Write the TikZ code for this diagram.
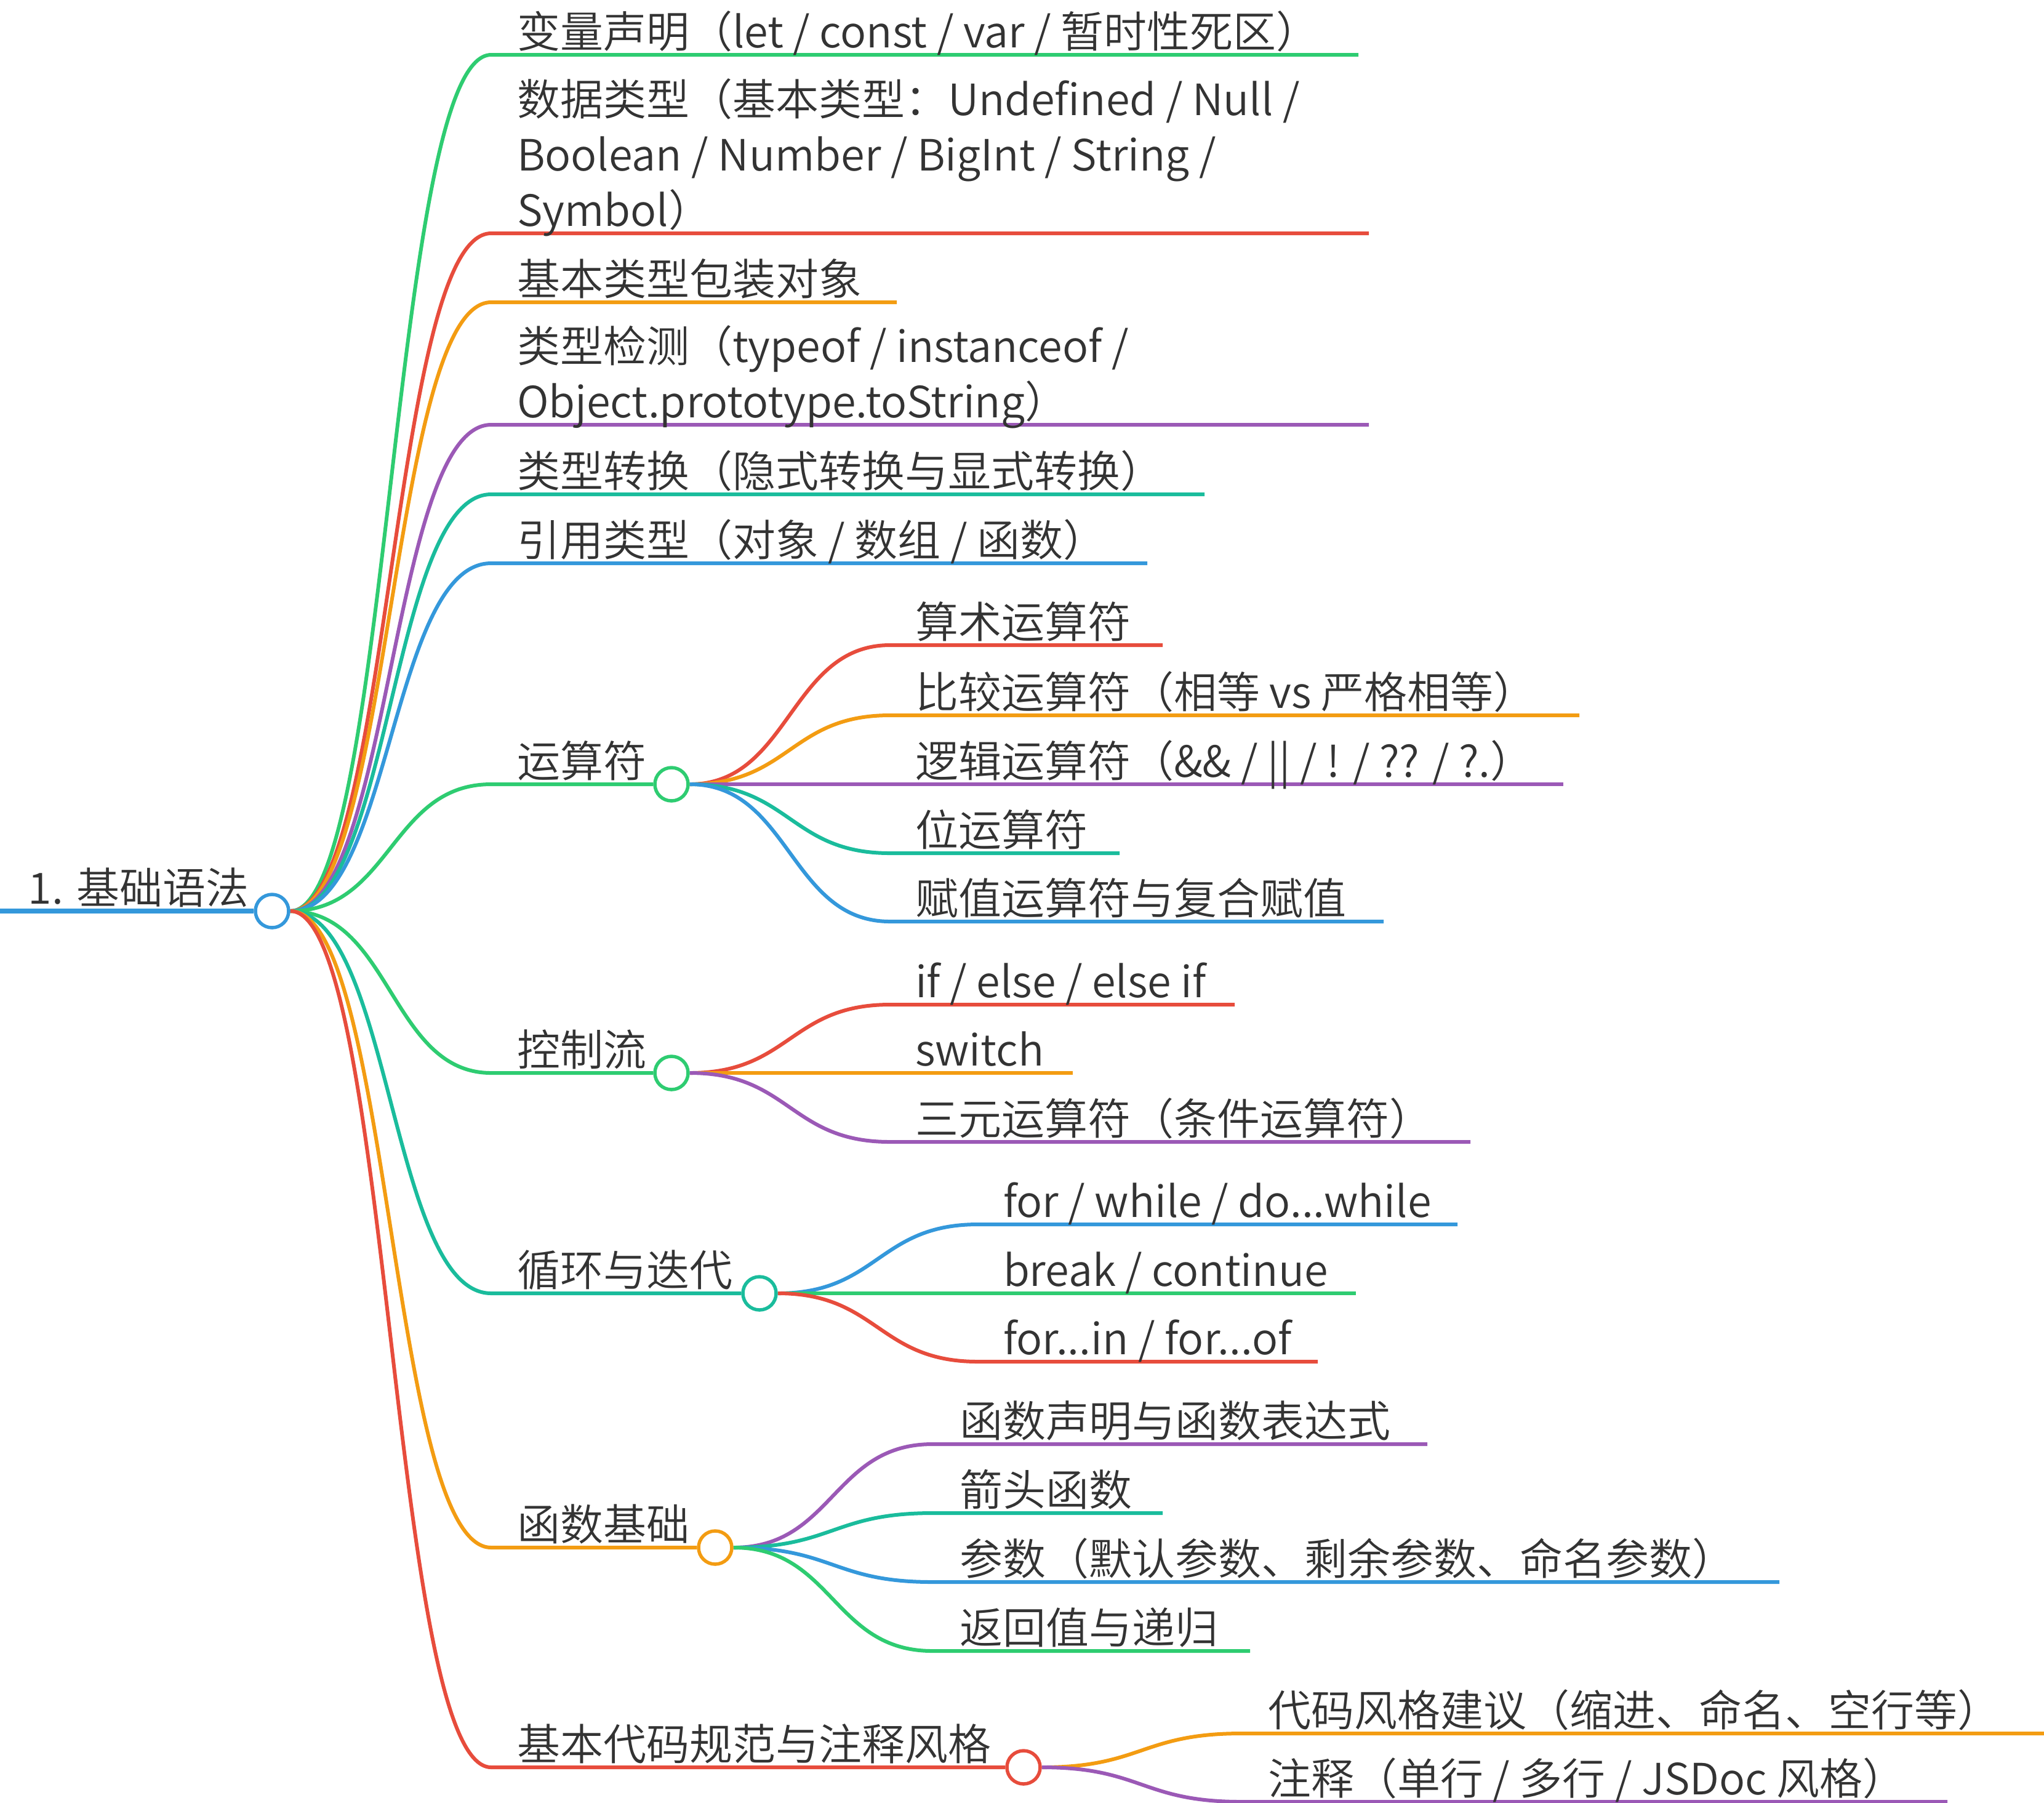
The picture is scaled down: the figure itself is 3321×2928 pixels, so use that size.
\documentclass[tikz,border=0pt]{standalone}
\usepackage{fontspec}
\IfFontExistsTF{Noto Sans CJK SC DemiLight}{\setmainfont{Noto Sans CJK SC DemiLight}}{\setmainfont{Noto Sans CJK SC}}
\usetikzlibrary{calc}
\definecolor{cgreen}{HTML}{2ECC71}
\definecolor{cred}{HTML}{E74C3C}
\definecolor{corange}{HTML}{F39C12}
\definecolor{cpurple}{HTML}{9B59B6}
\definecolor{cteal}{HTML}{1ABC9C}
\definecolor{cblue}{HTML}{3498DB}
\definecolor{txt}{HTML}{333333}
\pgfdeclarelayer{bg}
\pgfsetlayers{bg,main}
\newcommand\mmlink[4]{%
  \begin{pgfonlayer}{bg}
  \draw[br=#1] let \p1=(#2), \p2=(#3) in (\p1) .. controls ({(\x1+\x2)/2},\y1) and ({(\x1+\x2)/2},\y2) .. (\p2) -- (#4);
  \end{pgfonlayer}}
\begin{document}
\begin{tikzpicture}[x=0.25pt,y=-0.25pt,
  lbl/.style={anchor=base west, inner sep=0pt, outer sep=0pt, font=\fontsize{17.5}{22.5}\selectfont, text=txt, align=left},
  dot/.style={circle, draw=#1, fill=white, line width=1.375pt, minimum size=13.5pt, inner sep=0pt},
  br/.style={draw=#1, line width=1.5pt, line cap=butt}]
\useasboundingbox (0,0) rectangle (3321,2928);

% root
\node[dot=cblue] (root) at (442,1480) {};
\coordinate (r0) at (0,1480);
\begin{pgfonlayer}{bg}
\draw[cblue, line width=2pt] (r0) -- (root.west);
\end{pgfonlayer}
\node[lbl] (troot) at (46,1468) {1. 基础语法};

% level 1 coordinates
\coordinate (s1) at (798,89);   \coordinate (e1) at (2207,89);
\coordinate (s2) at (798,379);  \coordinate (e2) at (2224,379);
\coordinate (s3) at (798,491);  \coordinate (e3) at (1457,491);
\coordinate (s4) at (798,690);  \coordinate (e4) at (2224,690);
\coordinate (s5) at (798,803);  \coordinate (e5) at (1957,803);
\coordinate (s6) at (798,915);  \coordinate (e6) at (1864,915);
\coordinate (s7) at (798,1274);
\coordinate (s8) at (798,1743);
\coordinate (s9) at (798,2101);
\coordinate (s10) at (798,2514);
\coordinate (s11) at (798,2871);
\node[dot=cgreen] (c7) at (1091,1274) {};
\node[dot=cgreen] (c8) at (1091,1743) {};
\node[dot=cteal] (c9) at (1234,2101) {};
\node[dot=corange] (c10) at (1162,2514) {};
\node[dot=cred] (c11) at (1663,2871) {};

\mmlink{cgreen}{root.east}{s1}{e1}
\mmlink{cred}{root.east}{s2}{e2}
\mmlink{corange}{root.east}{s3}{e3}
\mmlink{cpurple}{root.east}{s4}{e4}
\mmlink{cteal}{root.east}{s5}{e5}
\mmlink{cblue}{root.east}{s6}{e6}
\mmlink{cgreen}{root.east}{s7}{c7.west}
\mmlink{cgreen}{root.east}{s8}{c8.west}
\mmlink{cteal}{root.east}{s9}{c9.west}
\mmlink{corange}{root.east}{s10}{c10.west}
\mmlink{cred}{root.east}{s11}{c11.west}

\node[lbl] (t1) at (840,77) {变量声明（let / const / var / 暂时性死区）};
\node[lbl] (t2) at (840,367) {数据类型（基本类型：Undefined / Null /\\Boolean / Number / BigInt / String /\\Symbol）};
\node[lbl] (t3) at (840,479) {基本类型包装对象};
\node[lbl] (t4) at (840,678) {类型检测（typeof / instanceof /\\Object.prototype.toString）};
\node[lbl] (t5) at (840,791) {类型转换（隐式转换与显式转换）};
\node[lbl] (t6) at (840,903) {引用类型（对象 / 数组 / 函数）};
\node[lbl] (t7) at (840,1262) {运算符};
\node[lbl] (t8) at (840,1731) {控制流};
\node[lbl] (t9) at (840,2089) {循环与迭代};
\node[lbl] (t10) at (840,2502) {函数基础};
\node[lbl] (t11) at (840,2859) {基本代码规范与注释风格};

% level 2: operators
\coordinate (s7a) at (1446,1048); \coordinate (e7a) at (1889,1048);
\coordinate (s7b) at (1446,1162); \coordinate (e7b) at (2566,1162);
\coordinate (s7c) at (1446,1274); \coordinate (e7c) at (2540,1274);
\coordinate (s7d) at (1446,1386); \coordinate (e7d) at (1819,1386);
\coordinate (s7e) at (1446,1497); \coordinate (e7e) at (2248,1497);
\mmlink{cred}{c7.east}{s7a}{e7a}
\mmlink{corange}{c7.east}{s7b}{e7b}
\mmlink{cpurple}{c7.east}{s7c}{e7c}
\mmlink{cteal}{c7.east}{s7d}{e7d}
\mmlink{cblue}{c7.east}{s7e}{e7e}
\node[lbl] (t7a) at (1487,1036) {算术运算符};
\node[lbl] (t7b) at (1487,1150) {比较运算符（相等 vs 严格相等）};
\node[lbl] (t7c) at (1487,1262) {逻辑运算符（\&\& / || / ! / ?? / ?.）};
\node[lbl] (t7d) at (1487,1374) {位运算符};
\node[lbl] (t7e) at (1487,1485) {赋值运算符与复合赋值};

% level 2: control flow
\coordinate (s8a) at (1446,1632); \coordinate (e8a) at (2006,1632);
\coordinate (s8b) at (1446,1743); \coordinate (e8b) at (1743,1743);
\coordinate (s8c) at (1446,1855); \coordinate (e8c) at (2389,1855);
\mmlink{cred}{c8.east}{s8a}{e8a}
\mmlink{corange}{c8.east}{s8b}{e8b}
\mmlink{cpurple}{c8.east}{s8c}{e8c}
\node[lbl] (t8a) at (1487,1620) {if / else / else if};
\node[lbl] (t8b) at (1487,1731) {switch};
\node[lbl] (t8c) at (1487,1843) {三元运算符（条件运算符）};

% level 2: loops
\coordinate (s9a) at (1589,1989); \coordinate (e9a) at (2368,1989);
\coordinate (s9b) at (1589,2101); \coordinate (e9b) at (2203,2101);
\coordinate (s9c) at (1589,2212); \coordinate (e9c) at (2141,2212);
\mmlink{cblue}{c9.east}{s9a}{e9a}
\mmlink{cgreen}{c9.east}{s9b}{e9b}
\mmlink{cred}{c9.east}{s9c}{e9c}
\node[lbl] (t9a) at (1630,1977) {for / while / do...while};
\node[lbl] (t9b) at (1630,2089) {break / continue};
\node[lbl] (t9c) at (1630,2200) {for...in / for...of};

% level 2: functions
\coordinate (s10a) at (1515,2346); \coordinate (e10a) at (2319,2346);
\coordinate (s10b) at (1515,2458); \coordinate (e10b) at (1889,2458);
\coordinate (s10c) at (1515,2570); \coordinate (e10c) at (2891,2570);
\coordinate (s10d) at (1515,2682); \coordinate (e10d) at (2031,2682);
\mmlink{cpurple}{c10.east}{s10a}{e10a}
\mmlink{cteal}{c10.east}{s10b}{e10b}
\mmlink{cblue}{c10.east}{s10c}{e10c}
\mmlink{cgreen}{c10.east}{s10d}{e10d}
\node[lbl] (t10a) at (1559,2334) {函数声明与函数表达式};
\node[lbl] (t10b) at (1559,2446) {箭头函数};
\node[lbl] (t10c) at (1559,2558) {参数（默认参数、剩余参数、命名参数）};
\node[lbl] (t10d) at (1559,2670) {返回值与递归};

% level 2: code style
\coordinate (s11a) at (2017,2816); \coordinate (e11a) at (3321,2816);
\coordinate (s11b) at (2017,2927); \coordinate (e11b) at (3164,2927);
\mmlink{corange}{c11.east}{s11a}{e11a}
\mmlink{cpurple}{c11.east}{s11b}{e11b}
\node[lbl] (t11a) at (2060,2804) {代码风格建议（缩进、命名、空行等）};
\node[lbl] (t11b) at (2060,2915) {注释（单行 / 多行 / JSDoc 风格）};
\end{tikzpicture}
\end{document}
